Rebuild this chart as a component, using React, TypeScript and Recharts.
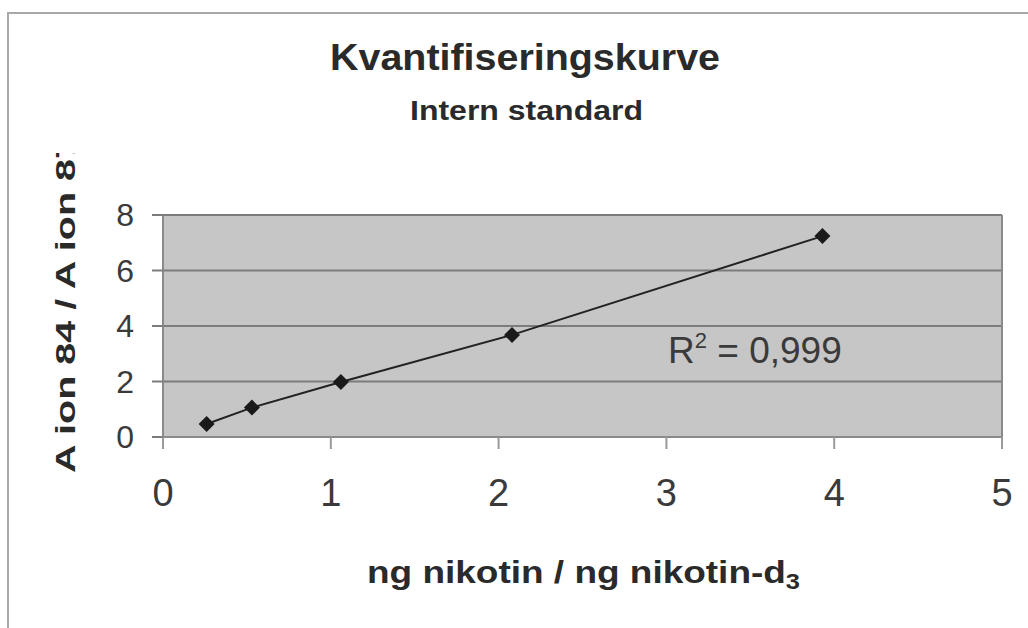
import React from 'react';
import {
    ScatterChart, Scatter, XAxis, YAxis, CartesianGrid, ReferenceLine, Customized,
} from 'recharts';

const nicotineRatio = [0.26, 0.53, 1.06, 2.08, 3.93];
const areaRatio = [0.47, 1.06, 1.98, 3.68, 7.24];
const xTicks = [0, 1, 2, 3, 4, 5];
const yTicks = [0, 2, 4, 6, 8];

const data = nicotineRatio.map((x, i) => ({ x, y: areaRatio[i] }));

const font = '"Liberation Sans", Arial, sans-serif';

const Diamond = (props: any) => {
    const { cx, cy } = props;
    const r = 8;
    return (
        <polygon
            points={`${cx},${cy - r} ${cx + r},${cy} ${cx},${cy + r} ${cx - r},${cy}`}
            fill="#1a1a1a"
        />
    );
};

const Texts = () => (
    <g fontFamily={font}>
        <path d="M8,628 L8,13 L1028,13" stroke="#a8a8a8" strokeWidth={2} fill="none" />
        <text x={330} y={70} fontSize={37} fontWeight="bold" fill="#2a2a2a"
            textLength={390} lengthAdjust="spacingAndGlyphs">Kvantifiseringskurve</text>
        <text x={410} y={120} fontSize={27} fontWeight="bold" fill="#2a2a2a"
            textLength={233} lengthAdjust="spacingAndGlyphs">Intern standard</text>
        <defs>
            <clipPath id="ylabClip">
                <rect x={0} y={153} width={160} height={400} />
            </clipPath>
        </defs>
        <g clipPath="url(#ylabClip)">
            <text transform="translate(75,473) rotate(-90)" fontSize={28} fontWeight="bold" fill="#2a2a2a"
                textLength={336} lengthAdjust="spacingAndGlyphs">A ion 84 / A ion 87</text>
        </g>
        <text x={367} y={583} fontSize={32} fontWeight="bold" fill="#2a2a2a"
            textLength={433} lengthAdjust="spacingAndGlyphs">
            ng nikotin / ng nikotin-d<tspan fontSize={22} dy={6}>3</tspan>
        </text>
        <text x={668} y={363} fontSize={37} fill="#3a3a3a">
            R<tspan fontSize={22} dy={-15}>2</tspan><tspan dy={15}> = 0,999</tspan>
        </text>
    </g>
);

export default function App() {
    return (
        <div style={{ position: 'absolute', left: 0, top: 0 }}>
            <ScatterChart width={1028} height={628} margin={{ top: 215, right: 26, left: 0, bottom: 0 }}>
                <CartesianGrid fill="#c6c6c6" vertical={false} stroke="#7c7c7c" strokeWidth={2} />
                <XAxis
                    type="number"
                    dataKey="x"
                    domain={[0, 5]}
                    ticks={xTicks}
                    height={191}
                    tickSize={12}
                    tickMargin={30}
                    axisLine={{ stroke: '#8a8a8a', strokeWidth: 2 }}
                    tickLine={{ stroke: '#9a9a9a', strokeWidth: 2 }}
                    tick={{ fontSize: 38, fill: '#3a3a3a', fontFamily: font }}
                />
                <YAxis
                    type="number"
                    dataKey="y"
                    domain={[0, 8]}
                    ticks={yTicks}
                    width={163}
                    tickSize={11}
                    tickMargin={18}
                    axisLine={{ stroke: '#8a8a8a', strokeWidth: 2 }}
                    tickLine={{ stroke: '#7c7c7c', strokeWidth: 2 }}
                    tick={{ fontSize: 32, fill: '#3a3a3a', fontFamily: font }}
                />
                <ReferenceLine x={5} stroke="#8a8a8a" strokeWidth={2} />
                <Scatter
                    data={data}
                    line={{ stroke: '#222', strokeWidth: 2 }}
                    lineType="joint"
                    shape={<Diamond />}
                    isAnimationActive={false}
                />
                <Customized component={Texts} />
            </ScatterChart>
        </div>
    );
}
